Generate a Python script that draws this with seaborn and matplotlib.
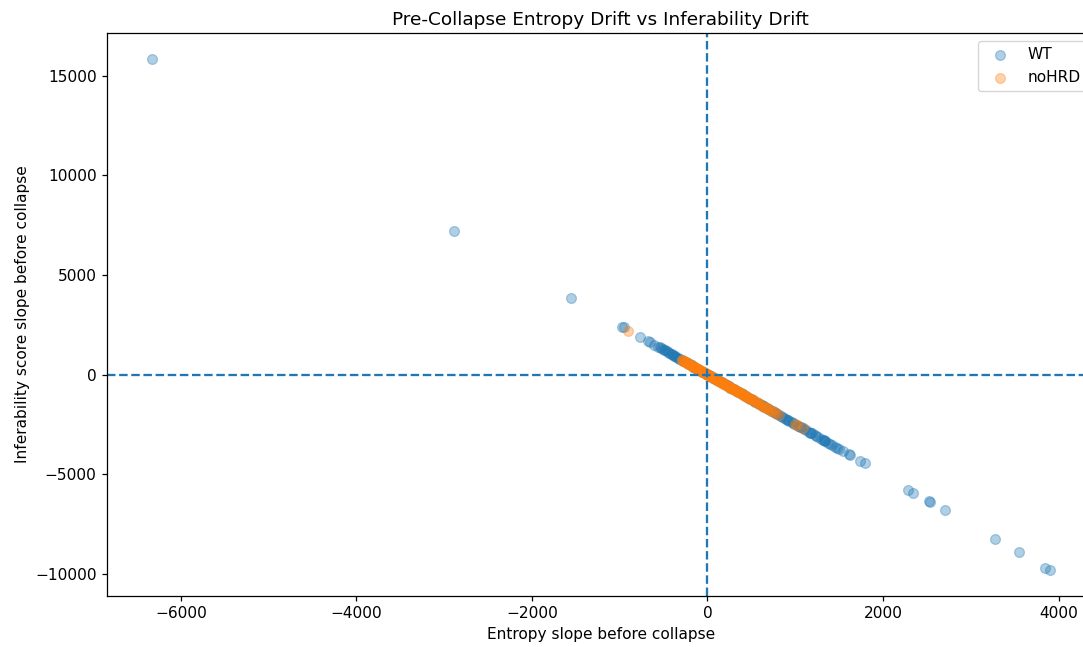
import matplotlib
matplotlib.use("Agg")
import matplotlib.pyplot as plt
import seaborn as sns
import pandas as pd

# Pre-collapse slopes per run, by genotype
wt_entropy_slope = [
    -6330, -2885, -1551, -969, -955, -764, -673, -650, -604, -560, -532, -508,
    -486, -463, -441, -420, -398, -377, -355, -331, -312, -289, -266, -248,
    -223, -205, -181, -160, -138, -117, -95, -72, -50, -28, -6, 15, 38, 60,
    83, 104, 127, 150, 171, 195, 218, 240, 262, 286, 309, 332, 355, 378, 402,
    425, 449, 472, 497, 521, 546, 570, 596, 621, 648, 674, 701, 728, 756, 783,
    812, 840, 869, 898, 928, 958, 990, 1020, 1052, 1085, 1118, 1152, 1187,
    1222, 1258, 1296, 1334, 1373, 1414, 1456, 1494, 1545, 1608, 1620, 1733,
    1790, 2280, 2337, 2520, 2531, 2703, 3272, 3546, 3843, 3900,
    -545, -497, -452, -409, -366, -321, -277, -236, -193, -149, -106, -61,
    -17, 26, 71, 116, 160, 206, 251, 297, 343, 390, 437, 484, 533, 583, 634,
    687, 741, 797, 854, 913, 974, 1036, 1100, 1168, 1240, 1316, 1395, 1475,
    1325, 1340, 1180, 1060, 905, 770, 640,
]
wt_infer_slope = [
    15850, 7225, 3864, 2408, 2390, 1880, 1690, 1630, 1470, 1400, 1318, 1275,
    1210, 1160, 1095, 1052, 990, 945, 880, 830, 775, 722, 668, 615,
    560, 508, 455, 398, 347, 290, 238, 182, 125, 66, 17, -40, -93, -152,
    -205, -262, -316, -372, -428, -485, -545, -598, -655, -712, -768, -826,
    -885, -940, -1000, -1058, -1118, -1176, -1236, -1298, -1360, -1420, -1483,
    -1547, -1612, -1678, -1745, -1812, -1882, -1950, -2022, -2092, -2164,
    -2236, -2311, -2386, -2465, -2540, -2620, -2702, -2784, -2868, -2956,
    -3043, -3133, -3227, -3322, -3419, -3520, -3625, -3720, -3846, -4010,
    -4040, -4315, -4415, -5770, -5920, -6360, -6420, -6820, -8260, -8930,
    -9730, -9830,
    1360, 1245, 1128, 1020, 912, 800, 690, 588, 480, 372, 262, 150,
    42, -66, -178, -290, -398, -515, -626, -742, -856, -972, -1090, -1208,
    -1330, -1455, -1583, -1715, -1850, -1990, -2132, -2280, -2432, -2588,
    -2748, -2918, -3098, -3288, -3485, -3688,
    -3300, -3345, -2940, -2645, -2258, -1920, -1598,
]

nohrd_entropy_slope = [
    -900, -296, -275, -255, -238, -220, -203, -186, -170, -152, -135, -118,
    -100, -84, -66, -50, -33, -16, 0, 17, 34, 51, 68, 86, 103, 120, 138, 155,
    173, 190, 208, 226, 244, 262, 281, 300, 319, 338, 358, 378, 399, 420, 442,
    465, 489, 502, 530, 560, 590, 625, 660, 695, 735, 775, 810, 992, 1015, 1083,
    -286, -265, -246, -229, -211, -194, -178, -161, -144, -127, -109, -92,
    -75, -58, -41, -25, -8, 8, 25, 42, 60, 77, 95, 112, 129, 147, 164, 182,
    199, 217, 235, 253, 271, 290, 309, 328, 348, 368, 389, 410, 431, 453, 477,
    515, 545, 575, 608, 642, 678, 715, 755,
]
nohrd_infer_slope = [
    2200, 740, 690, 640, 592, 550, 505, 465, 422, 380, 336, 295,
    250, 208, 165, 122, 82, 40, -2, -42, -85, -128, -170, -214, -258, -300,
    -344, -388, -432, -475, -520, -564, -610, -655, -702, -748, -795, -843,
    -892, -942, -994, -1046, -1100, -1158, -1217, -1250, -1320, -1395, -1470,
    -1556, -1645, -1730, -1830, -1930, -2020, -2490, -2540, -2700,
    712, 663, 618, 570, 528, 482, 446, 400, 360, 315, 274, 228,
    190, 143, 104, 60, 22, -22, -60, -107, -148, -193, -236, -282,
    -320, -368, -408, -455, -496, -545, -585, -634, -676, -726, -770, -820,
    -868, -922, -970, -1026, -1076, -1132, -1190,
    -1285, -1362, -1436, -1520, -1604, -1693, -1786, -1886,
]

groups = ["WT", "noHRD"]

wt = pd.DataFrame({"entropy": wt_entropy_slope, "infer": wt_infer_slope})
nohrd = pd.DataFrame({"entropy": nohrd_entropy_slope, "infer": nohrd_infer_slope})

fs = 11.1
plt.rcParams.update({
    "font.size": fs,
    "axes.linewidth": 0.9,
    "xtick.major.width": 0.9,
    "ytick.major.width": 0.9,
    "xtick.major.size": 3.9,
    "ytick.major.size": 3.9,
})

fig = plt.figure(figsize=(10.83, 6.47), dpi=100)
ax = fig.add_axes([0.0988, 0.0788, 0.912, 0.870])

for df, name, col in [(wt, groups[0], "C0"), (nohrd, groups[1], "C1")]:
    sns.scatterplot(data=df, x="entropy", y="infer", ax=ax, color=col,
                    alpha=0.35, s=50, edgecolor="face", linewidth=0.9,
                    label=name)

ax.axhline(0, color="C0", linestyle="--", linewidth=1.65)
ax.axvline(0, color="C0", linestyle="--", linewidth=1.65)

ax.set_title("Pre-Collapse Entropy Drift vs Inferability Drift", fontsize=13.3)
ax.set_xlabel("Entropy slope before collapse", fontsize=fs)
ax.set_ylabel("Inferability score slope before collapse", fontsize=fs)
ax.tick_params(labelsize=fs)
ax.legend(loc="upper right", fontsize=fs)

fig.savefig("out.png", dpi=100)
